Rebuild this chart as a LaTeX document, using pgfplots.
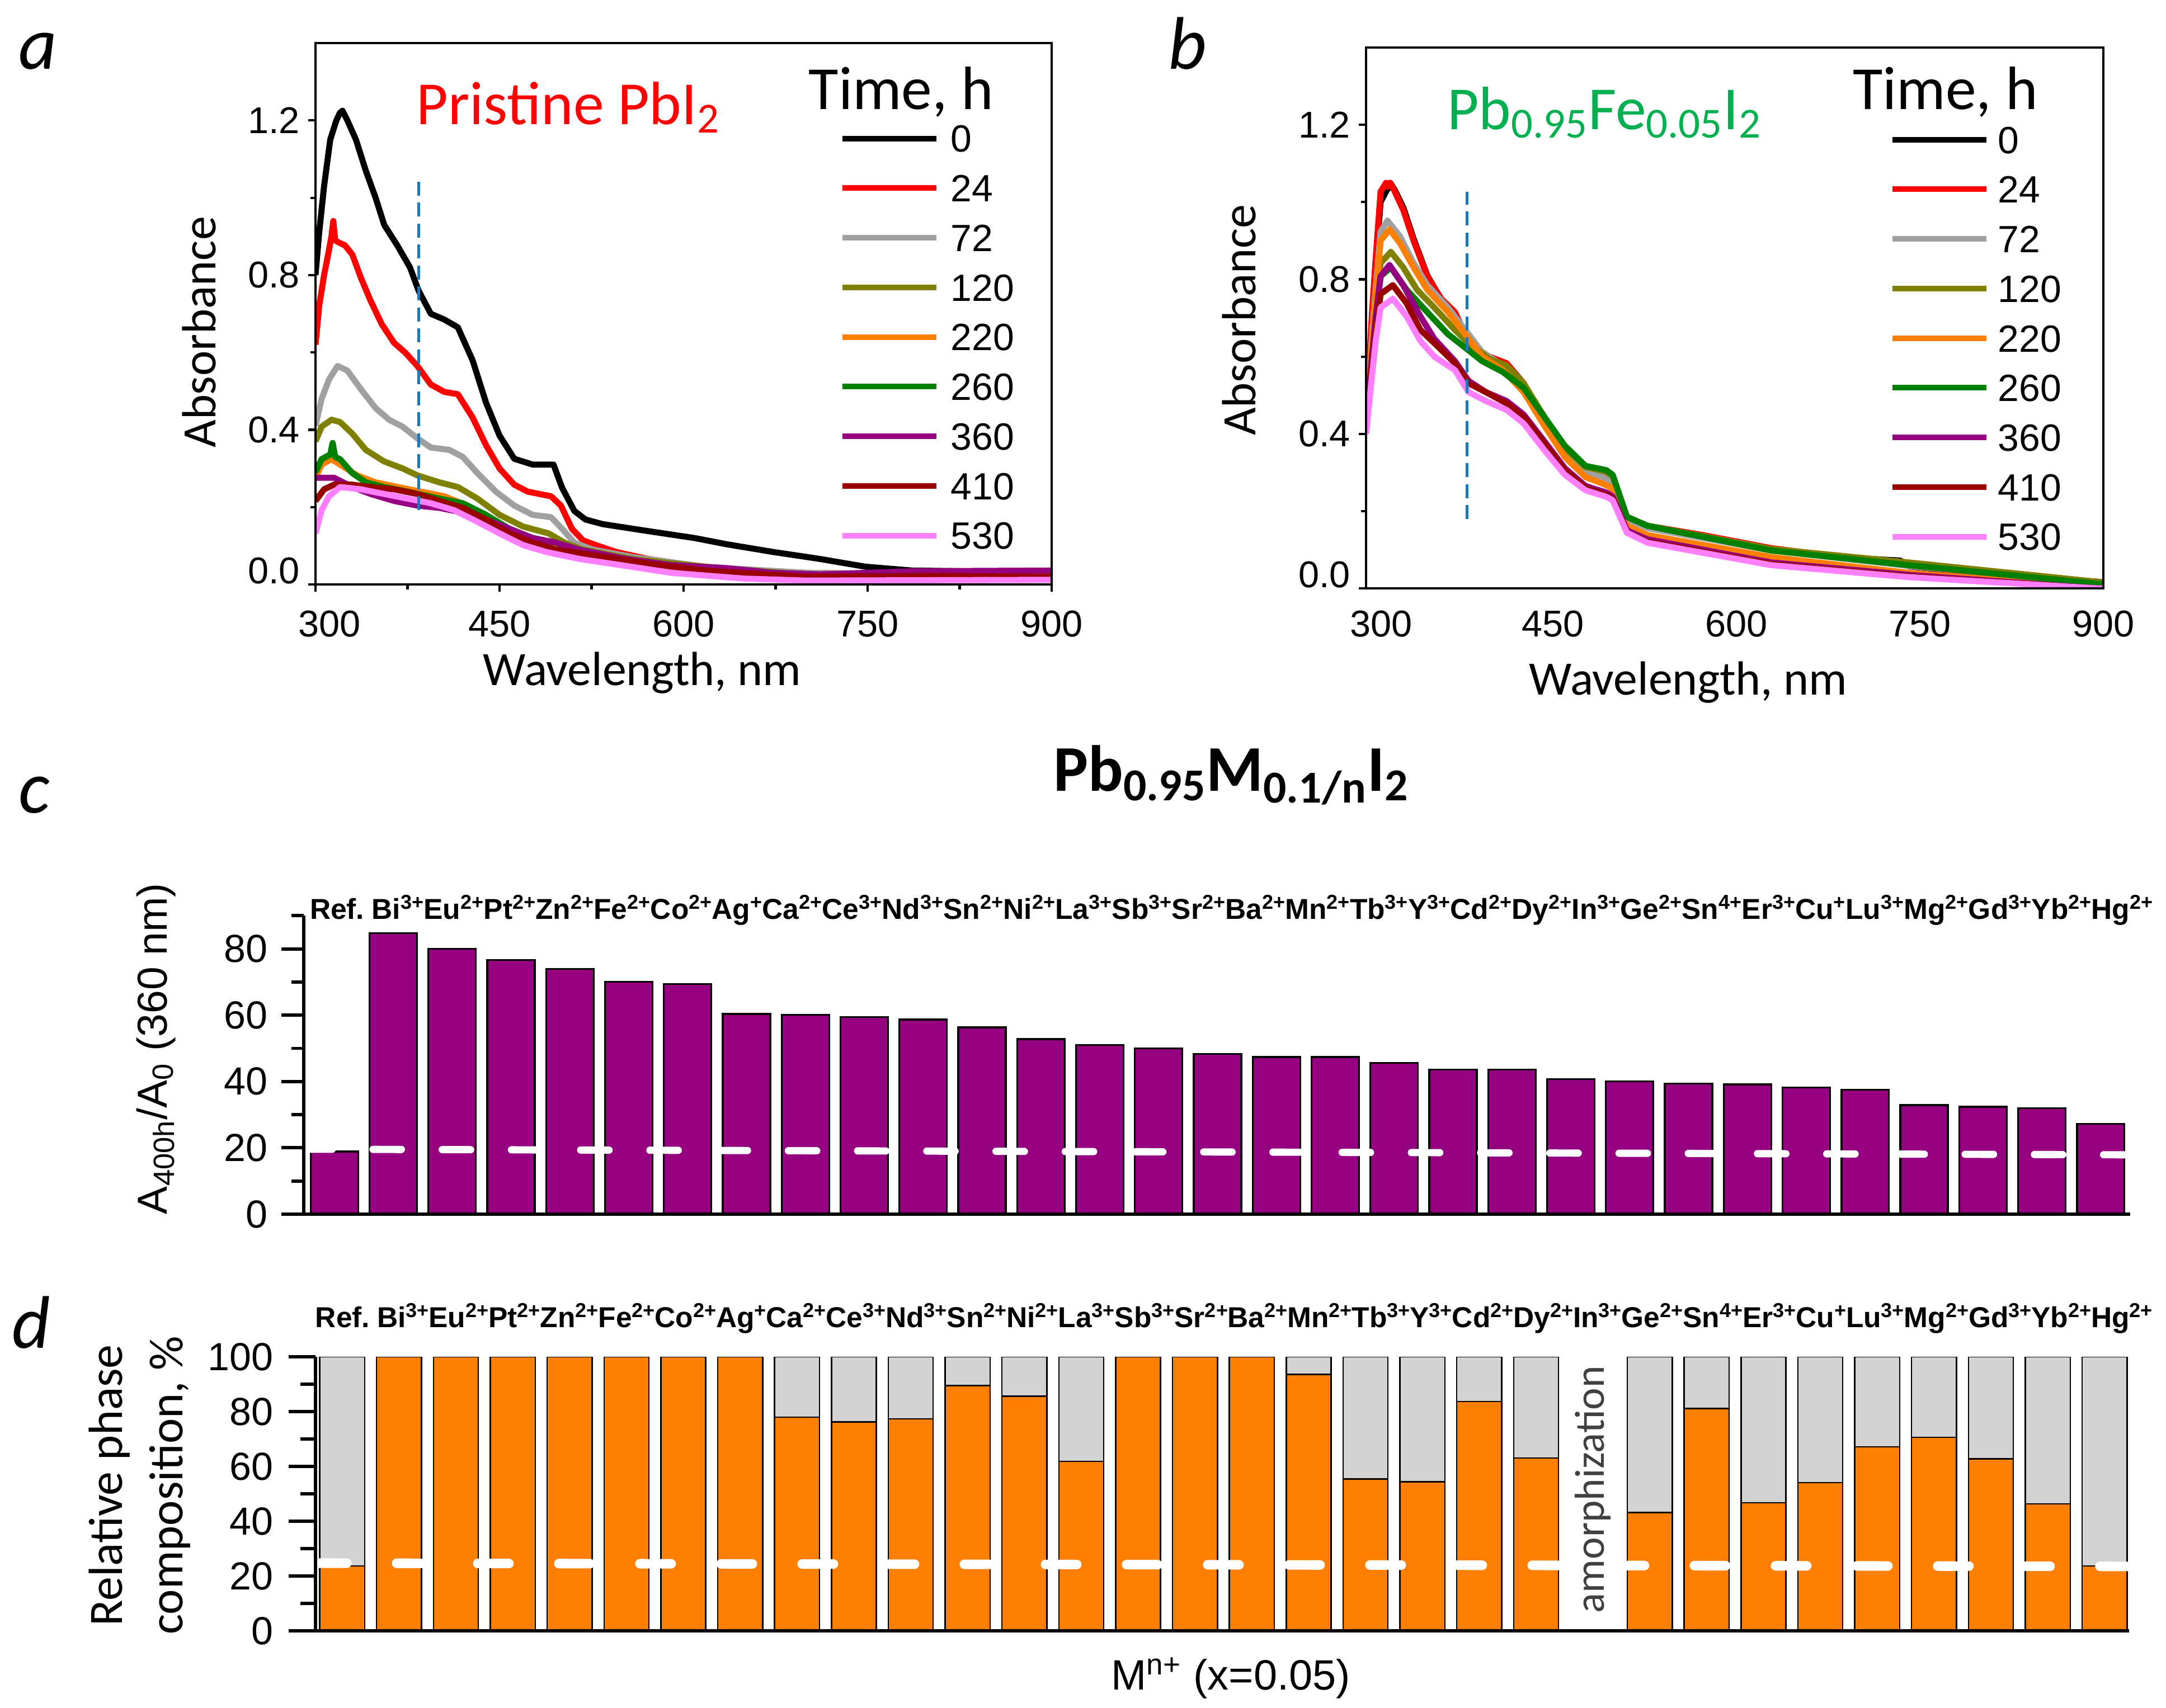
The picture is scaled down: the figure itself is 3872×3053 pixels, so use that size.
\documentclass[border=0pt]{standalone}
\usepackage{pgfplots}
\pgfplotsset{compat=1.18}
\usepackage{fontspec}
\setmainfont{Carlito}
\newfontfamily\arial{Liberation Sans}
\definecolor{c24}{RGB}{255,0,0}
\definecolor{c72}{RGB}{160,160,160}
\definecolor{c120}{RGB}{128,128,0}
\definecolor{c220}{RGB}{255,128,0}
\definecolor{c260}{RGB}{0,128,0}
\definecolor{c360}{RGB}{148,0,128}
\definecolor{c410}{RGB}{153,0,0}
\definecolor{c530}{RGB}{255,128,255}
\definecolor{cblue}{RGB}{31,119,180}
\definecolor{cgreen}{RGB}{0,176,80}
\definecolor{barpurple}{RGB}{148,0,128}
\definecolor{barorange}{RGB}{255,128,0}
\definecolor{bargray}{RGB}{211,211,211}
\definecolor{amorph}{RGB}{64,64,64}
\pgfplotsset{
  /pgf/number format/assume math mode=true,
  spec/.style={
    scale only axis, axis on top,
    tick align=outside, xtick pos=left, ytick pos=left,
    major tick length=3pt, minor tick length=2.2pt,
    every tick/.style={black, line width=1pt},
    axis line style={line width=1pt},
    ymin=0, ymax=1.4,
    xtick={300,450,600,750,900},
    ytick={0,0.4,0.8,1.2}, minor ytick={0.2,0.6,1.0},
    ticklabel style={font=\arial\fontsize{16}{19}\selectfont, inner sep=0pt},
    yticklabel style={/pgf/number format/fixed, /pgf/number format/fixed zerofill, /pgf/number format/precision=1, xshift=-3.5pt},
    yticklabel={\ifnum\ticknum=0 \raisebox{12pt}{\pgfmathprintnumber{\tick}}\else\pgfmathprintnumber{\tick}\fi},
    xlabel={Wavelength, nm}, ylabel={Absorbance},
    label style={font=\fontsize{20.6}{25}\selectfont},
    legend style={draw=none, fill=none, inner sep=0pt, outer sep=0pt,
      row sep=9.6pt, column sep=5pt,
      font=\arial\fontsize{16.3}{19}\selectfont,
      nodes={inner sep=0pt, text height=11.7pt, text depth=0pt},
      cells={anchor=west}},
    legend image code/.code={\draw[##1, line width=2.4pt] (0pt,0pt) -- (40.3pt,0pt);},
    every axis plot/.append style={line width=2.6pt, line join=round},
  },
  bars/.style={
    scale only axis, axis on top,
    axis lines=left, axis line style={-, line width=1.4pt},
    tick align=outside,
    every tick/.style={black, line width=1.4pt},
    xtick style={draw=none},
    xticklabel style={anchor=base, inner sep=0pt, font=\arial\bfseries\fontsize{12.35}{14}\selectfont},
    yticklabel style={font=\arial\fontsize{16.8}{20}\selectfont, inner sep=0pt},
    xticklabels={Ref., Bi\textsuperscript{3+}, Eu\textsuperscript{2+}, Pt\textsuperscript{2+}, Zn\textsuperscript{2+}, Fe\textsuperscript{2+}, Co\textsuperscript{2+}, Ag\textsuperscript{+}, Ca\textsuperscript{2+}, Ce\textsuperscript{3+}, Nd\textsuperscript{3+}, Sn\textsuperscript{2+}, Ni\textsuperscript{2+}, La\textsuperscript{3+}, Sb\textsuperscript{3+}, Sr\textsuperscript{2+}, Ba\textsuperscript{2+}, Mn\textsuperscript{2+}, Tb\textsuperscript{3+}, Y\textsuperscript{3+}, Cd\textsuperscript{2+}, Dy\textsuperscript{2+}, In\textsuperscript{3+}, Ge\textsuperscript{2+}, Sn\textsuperscript{4+}, Er\textsuperscript{3+}, Cu\textsuperscript{+}, Lu\textsuperscript{3+}, Mg\textsuperscript{2+}, Gd\textsuperscript{3+}, Yb\textsuperscript{2+}, Hg\textsuperscript{2+}},
  },
}
\begin{document}
\begin{tikzpicture}[x=0.24pt,y=0.24pt]
\useasboundingbox (0,0) rectangle (3872,3053);

% ---------------- panel a ----------------
\begin{axis}[spec,
  at={(135.36pt,481.92pt)}, anchor=south west, width=315.84pt, height=232.32pt,
  xmin=300, xmax=900, minor xtick={375,525,675,825},
  xticklabel style={yshift=-8pt},
  xticklabel={\ifnum\ticknum=0 \hspace*{12pt}\fi\pgfmathprintnumber{\tick}},
  xlabel style={at={(axis description cs:0.4438,-0.186)}, anchor=base},
  ylabel style={at={(axis description cs:-0.136,0.466)}, anchor=base},
  legend style={at={(axis description cs:0.712,0.849)}, anchor=north west},
]
\addplot[black] coordinates {(300,0.80) (303,0.91) (307,1.03) (312,1.15) (317,1.20) (320,1.22) (322,1.225) (326,1.20) (333,1.15) (341,1.07) (349,1.00) (356,0.93) (367,0.875) (377,0.82) (384,0.76) (394,0.70) (405,0.685) (416,0.665) (428,0.58) (439,0.47) (450,0.385) (462,0.325) (477,0.31) (494,0.31) (501,0.25) (511,0.19) (520,0.168) (534,0.156) (571,0.138) (609,0.12) (635,0.104) (673,0.084) (711,0.066) (748,0.046) (786,0.036) (830,0.034) (900,0.034)};
\addlegendentry{0}
\addplot[c24] coordinates {(300,0.62) (303,0.72) (307,0.80) (311,0.865) (313,0.90) (314.5,0.94) (316,0.89) (318.5,0.885) (324,0.877) (330,0.853) (337,0.793) (345,0.733) (354,0.673) (364,0.625) (373,0.60) (383,0.565) (394,0.517) (405,0.498) (416,0.492) (428,0.432) (439,0.36) (450,0.30) (462,0.258) (473,0.24) (492,0.228) (500,0.204) (509,0.144) (518,0.114) (530,0.10) (545,0.084) (571,0.066) (609,0.048) (650,0.038) (700,0.03) (800,0.025) (900,0.025)};
\addlegendentry{24}
\addplot[c72] coordinates {(300,0.41) (305,0.48) (311,0.53) (318,0.565) (326,0.553) (337,0.505) (349,0.456) (360,0.426) (371,0.408) (383,0.378) (394,0.354) (409,0.348) (420,0.33) (432,0.288) (447,0.24) (462,0.204) (477,0.18) (492,0.174) (501,0.144) (511,0.108) (526,0.09) (560,0.07) (620,0.045) (700,0.03) (800,0.025) (900,0.022)};
\addlegendentry{72}
\addplot[c120] coordinates {(300,0.37) (305,0.408) (313,0.426) (320,0.42) (330,0.39) (341,0.348) (356,0.318) (371,0.30) (383,0.282) (401,0.264) (416,0.252) (432,0.222) (450,0.18) (469,0.15) (490,0.132) (503,0.108) (518,0.09) (560,0.065) (620,0.045) (700,0.025) (800,0.022) (900,0.02)};
\addlegendentry{120}
\addplot[c220] coordinates {(300,0.276) (305,0.31) (313,0.324) (322,0.306) (334,0.282) (349,0.264) (367,0.252) (386,0.24) (405,0.228) (424,0.204) (443,0.168) (462,0.132) (481,0.108) (500,0.096) (518,0.078) (545,0.06) (590,0.042) (650,0.024) (700,0.014) (800,0.02) (900,0.024)};
\addlegendentry{220}
\addplot[c260] coordinates {(300,0.29) (305,0.324) (312,0.336) (314,0.366) (316,0.33) (320,0.324) (330,0.288) (341,0.264) (356,0.252) (375,0.24) (401,0.222) (420,0.21) (439,0.18) (458,0.144) (477,0.12) (496,0.108) (515,0.084) (560,0.06) (620,0.04) (700,0.02) (800,0.02) (900,0.02)};
\addlegendentry{260}
\addplot[c360] coordinates {(300,0.276) (307,0.276) (315,0.276) (330,0.252) (345,0.234) (364,0.216) (383,0.204) (401,0.198) (420,0.186) (439,0.168) (458,0.144) (477,0.12) (496,0.108) (515,0.09) (553,0.066) (590,0.05) (635,0.042) (673,0.03) (711,0.026) (786,0.034) (900,0.036)};
\addlegendentry{360}
\addplot[c410] coordinates {(300,0.216) (307,0.246) (315,0.258) (330,0.258) (345,0.252) (364,0.246) (383,0.234) (401,0.216) (420,0.198) (439,0.168) (458,0.132) (477,0.108) (496,0.09) (534,0.072) (571,0.054) (620,0.035) (700,0.02) (800,0.022) (900,0.02)};
\addlegendentry{410}
\addplot[c530] coordinates {(300,0.132) (305,0.192) (311,0.228) (320,0.252) (337,0.246) (356,0.234) (375,0.222) (394,0.21) (413,0.192) (432,0.162) (450,0.132) (469,0.102) (488,0.084) (515,0.066) (553,0.048) (590,0.03) (650,0.015) (700,0.01) (900,0.012)};
\addlegendentry{530}
\addplot[forget plot, cblue, line width=1.2pt, dash pattern=on 6pt off 3pt] coordinates {(384,0.192) (384,1.045)};
\node[anchor=base west, inner sep=0pt, text=c24, font=\fontsize{26.3}{31}\selectfont] at (axis cs:382.1,1.190) {Pristine PbI\textsubscript{2}};
\node[anchor=base west, inner sep=0pt, font=\fontsize{26.3}{31}\selectfont] at (axis cs:701.7,1.229) {Time, h};
\end{axis}

% ---------------- panel b ----------------
\begin{axis}[spec,
  at={(586.08pt,480.24pt)}, anchor=south west, width=316.32pt, height=232.08pt,
  xmin=297, xmax=900, xtick style={draw=none},
  xticklabel style={yshift=-6.5pt},
  xticklabel={\ifnum\ticknum=0 \hspace*{9.8pt}\fi\pgfmathprintnumber{\tick}},
  xlabel style={at={(axis description cs:0.437,-0.1975)}, anchor=base},
  ylabel style={at={(axis description cs:-0.1495,0.4964)}, anchor=base},
  legend style={at={(axis description cs:0.7102,0.855)}, anchor=north west, column sep=3.8pt},
]
\addplot[black] coordinates {(297,0.42) (301.9,0.70) (304.9,0.84) (308.9,1.00) (313.8,1.03) (317.8,1.045) (320.7,1.03) (327.6,0.985) (335.9,0.905) (347.1,0.81) (358.4,0.748) (369.7,0.71) (378.1,0.655) (386.5,0.62) (397.7,0.595) (411.9,0.578) (425.9,0.528) (442.8,0.435) (459.6,0.355) (476.5,0.308) (490.6,0.297) (501.9,0.24) (510.4,0.183) (527.2,0.16) (572.2,0.136) (628.5,0.102) (684.8,0.08) (704.3,0.077) (733.9,0.072) (741.0,0.057) (797.2,0.039) (900,0.016)};
\addlegendentry{0}
\addplot[c24] coordinates {(297,0.43) (301.9,0.715) (304.9,0.854) (308.9,1.027) (313.4,1.05) (314.8,1.04) (316.8,1.05) (318.9,1.038) (327.4,0.98) (335.9,0.90) (347.1,0.808) (358.4,0.75) (369.7,0.715) (378.1,0.658) (386.5,0.623) (397.7,0.60) (411.9,0.583) (425.9,0.531) (442.8,0.438) (459.6,0.358) (476.5,0.311) (490.6,0.30) (496.7,0.29) (501.9,0.242) (510.4,0.185) (527.2,0.162) (572.2,0.138) (628.5,0.104) (684.8,0.081) (741.0,0.058) (797.2,0.040) (895.1,0.017) (900,0.016)};
\addlegendentry{24}
\addplot[c72] coordinates {(297,0.41) (301.9,0.66) (304.9,0.78) (308.9,0.923) (314.5,0.952) (324.7,0.912) (335.9,0.842) (347.1,0.785) (364.0,0.727) (378.1,0.669) (392.1,0.611) (409.0,0.577) (425.9,0.525) (442.8,0.432) (459.6,0.352) (476.5,0.302) (490.6,0.288) (496.7,0.278) (510.4,0.179) (527.2,0.156) (628.5,0.098) (741.0,0.058) (895.1,0.015) (900,0.014)};
\addlegendentry{72}
\addplot[c120] coordinates {(297,0.41) (301.9,0.62) (304.9,0.73) (308.9,0.842) (317.3,0.871) (327.4,0.831) (338.7,0.773) (352.8,0.727) (369.7,0.669) (380.9,0.635) (397.7,0.594) (411.9,0.577) (425.9,0.531) (442.8,0.444) (459.6,0.363) (476.5,0.314) (493.5,0.302) (498.7,0.29) (510.4,0.185) (527.2,0.162) (628.5,0.102) (741.0,0.067) (895.1,0.017) (900,0.016)};
\addlegendentry{120}
\addplot[c220] coordinates {(297,0.41) (301.9,0.64) (304.9,0.76) (308.9,0.90) (316.2,0.929) (324.7,0.894) (335.9,0.831) (347.1,0.773) (364.0,0.715) (378.1,0.658) (392.1,0.60) (409.0,0.565) (425.9,0.508) (442.8,0.421) (459.6,0.34) (476.5,0.288) (490.6,0.271) (496.7,0.262) (510.4,0.162) (527.2,0.138) (628.5,0.081) (741.0,0.04) (895.1,0.002) (900,0.0)};
\addlegendentry{220}
\addplot[c260] coordinates {(297,0.41) (301.9,0.60) (304.9,0.70) (308.9,0.808) (317.3,0.831) (330.2,0.773) (347.1,0.715) (364.0,0.658) (378.1,0.623) (392.1,0.588) (409.0,0.56) (425.9,0.519) (442.8,0.444) (459.6,0.369) (476.5,0.317) (493.5,0.306) (498.7,0.294) (510.4,0.185) (527.2,0.162) (628.5,0.098) (741.0,0.06) (895.1,0.012) (900,0.011)};
\addlegendentry{260}
\addplot[c360] coordinates {(297,0.41) (301.9,0.60) (304.9,0.70) (308.9,0.808) (316.2,0.837) (327.4,0.785) (341.5,0.704) (352.8,0.646) (369.7,0.588) (380.9,0.537) (395.0,0.508) (411.9,0.485) (425.9,0.45) (442.8,0.381) (459.6,0.311) (476.5,0.265) (493.5,0.248) (498.7,0.238) (510.4,0.15) (527.2,0.127) (628.5,0.067) (741.0,0.035) (895.1,0.0) (900,0.0)};
\addlegendentry{360}
\addplot[c410] coordinates {(297,0.40) (301.9,0.57) (304.9,0.66) (308.9,0.762) (318.9,0.785) (330.2,0.738) (341.5,0.669) (352.8,0.635) (369.7,0.583) (380.9,0.531) (395.0,0.508) (411.9,0.479) (425.9,0.444) (442.8,0.375) (459.6,0.306) (476.5,0.26) (493.5,0.242) (498.7,0.232) (510.4,0.144) (527.2,0.121) (628.5,0.063) (741.0,0.031) (895.1,0.0) (900,0.0)};
\addlegendentry{410}
\addplot[c530] coordinates {(297,0.40) (301.9,0.55) (304.9,0.64) (308.9,0.727) (318.9,0.75) (330.2,0.704) (341.5,0.64) (352.8,0.60) (369.7,0.565) (380.9,0.508) (395.0,0.485) (411.9,0.462) (425.9,0.427) (442.8,0.358) (459.6,0.294) (476.5,0.254) (493.5,0.237) (498.7,0.228) (510.4,0.144) (527.2,0.118) (628.5,0.06) (741.0,0.029) (895.1,0.0) (900,0.0)};
\addlegendentry{530}
\addplot[forget plot, cblue, line width=1.2pt, dash pattern=on 6pt off 3pt] coordinates {(379.8,0.179) (379.8,1.027)};
\node[anchor=base west, inner sep=0pt, text=cgreen, font=\fontsize{26.3}{31}\selectfont] at (axis cs:363.0,1.1886) {Pb\textsubscript{0.95}Fe\textsubscript{0.05}I\textsubscript{2}};
\node[anchor=base west, inner sep=0pt, font=\fontsize{26.3}{31}\selectfont] at (axis cs:694.8,1.2407) {Time, h};
\end{axis}

% ---------------- panel c ----------------
\begin{axis}[bars,
  at={(130.32pt,211.68pt)}, anchor=south west, width=783.6pt, height=128.1pt,
  xmin=-0.52, xmax=30.5, ymin=0, ymax=90,
  ytick={0,20,40,60,80}, minor ytick={10,30,50,70,90},
  major tick length=9.6pt, minor tick length=5.2pt,
  yticklabel style={xshift=-5.8pt},
  xtick={0.047,1.087,2.036,2.986,3.921,4.897,5.901,6.849,7.785,8.802,9.832,10.863,11.812,12.734,13.724,14.686,15.649,16.707,17.751,18.605,19.486,20.516,21.438,22.374,23.404,24.367,25.248,26.170,27.214,28.299,29.343,30.374},
  xticklabel style={yshift=136.1pt},
  ylabel={A\textsubscript{400h}/A\textsubscript{0} (360 nm)},
  ylabel style={font=\arial\fontsize{18}{22}\selectfont, at={(axis description cs:-0.075,0.5546)}, anchor=base},
  title={Pb\textsubscript{0.95}M\textsubscript{0.1/n}I\textsubscript{2}},
  title style={font=\bfseries\fontsize{28}{34}\selectfont, at={(axis description cs:0.4104,1.3714)}, anchor=base west, inner sep=0pt},
]
\addplot[ybar, bar width=0.807, bar shift=0pt, fill=barpurple, draw=black, line width=0.8pt] coordinates {(0,18.9) (1,84.7) (2,80.0) (3,76.7) (4,73.9) (5,70.1) (6,69.4) (7,60.4) (8,60.1) (9,59.5) (10,58.7) (11,56.3) (12,52.8) (13,51.0) (14,50.0) (15,48.3) (16,47.4) (17,47.4) (18,45.6) (19,43.6) (20,43.6) (21,40.7) (22,40.0) (23,39.4) (24,39.1) (25,38.2) (26,37.5) (27,32.9) (28,32.4) (29,32.0) (30,27.2)};
\addplot[white, line width=3.1pt, line cap=round, dash pattern=on 12.2pt off 17.5pt] coordinates {(-0.52,19.6) (30.5,17.9)};
\end{axis}

% ---------------- panel d ----------------
\begin{axis}[bars,
  at={(135.36pt,32.88pt)}, anchor=south west, width=778.08pt, height=117.6pt,
  xmin=-0.47, xmax=31.43, ymin=0, ymax=100,
  ytick={0,20,40,60,80,100}, minor ytick={10,30,50,70,90},
  major tick length=11.5pt, minor tick length=6.4pt,
  yticklabel style={xshift=-6.5pt},
  xtick={0.008,1.081,2.060,3.041,4.007,5.014,6.050,7.029,7.995,9.045,10.109,11.173,12.152,13.104,14.126,15.120,16.113,17.205,18.283,19.164,20.074,21.138,22.089,23.055,24.119,25.113,26.022,26.974,28.051,29.171,30.249,31.313},
  xticklabel style={yshift=141.6pt},
  ylabel={Relative phase\\composition, \%},
  ylabel style={align=center, font=\fontsize{20.6}{26}\selectfont, at={(axis description cs:-0.0969,0.5306)}, anchor=center},
  xlabel={M\textsuperscript{n+} (x=0.05)},
  xlabel style={font=\arial\fontsize{18.2}{22}\selectfont, at={(axis description cs:0.4386,-0.2143)}, anchor=base west, inner sep=0pt},
]
\addplot[ybar, bar width=0.79, bar shift=0pt, fill=bargray, draw=black, line width=0.6pt] coordinates {(0,100) (8,100) (9,100) (10,100) (11,100) (12,100) (13,100) (17,100) (18,100) (19,100) (20,100) (21,100) (23,100) (24,100) (25,100) (26,100) (27,100) (28,100) (29,100) (30,100) (31,100)};
\addplot[ybar, bar width=0.79, bar shift=0pt, fill=barorange, draw=black, line width=0.6pt] coordinates {(0,23.7) (1,100) (2,100) (3,100) (4,100) (5,100) (6,100) (7,100) (8,78.0) (9,76.2) (10,77.4) (11,89.5) (12,85.6) (13,61.8) (14,100) (15,100) (16,100) (17,93.6) (18,55.4) (19,54.4) (20,83.7) (21,63.1) (23,43.2) (24,81.1) (25,46.7) (26,54.1) (27,67.1) (28,70.6) (29,62.8) (30,46.3) (31,23.7)};
\addplot[white, line width=4.1pt, line cap=round, dash pattern=on 13.4pt off 21.4pt] coordinates {(-0.47,24.7) (31.43,23.5)};
\node[rotate=90, inner sep=0pt, text=amorph, font=\fontsize{18}{22}\selectfont] at (axis cs:22,51.6) {amorphization};
\end{axis}

% panel letters
\node[anchor=base west, inner sep=0pt, font=\itshape\fontsize{32}{38}\selectfont] at (33,2929) {a};
\node[anchor=base west, inner sep=0pt, font=\itshape\fontsize{32}{38}\selectfont] at (2088,2929) {b};
\node[anchor=base west, inner sep=0pt, font=\itshape\fontsize{32}{38}\selectfont] at (33,1599) {c};
\node[anchor=base west, inner sep=0pt, font=\itshape\fontsize{32}{38}\selectfont] at (21,642) {d};
\end{tikzpicture}
\end{document}
